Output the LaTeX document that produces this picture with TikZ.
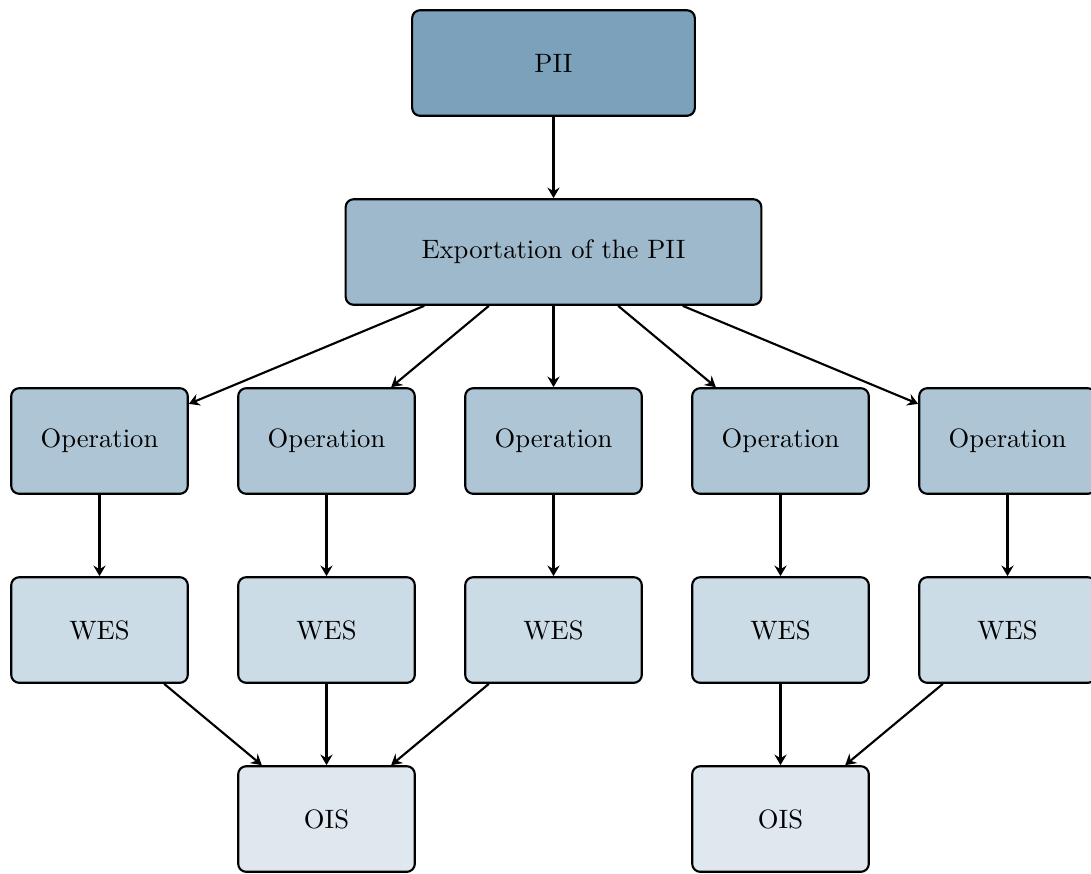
\documentclass[tikz,border=0pt]{standalone}
\usetikzlibrary{arrows.meta}
\definecolor{piiFill}{HTML}{7BA1BB}
\definecolor{expFill}{HTML}{9EB9CC}
\definecolor{opFill}{HTML}{ADC5D5}
\definecolor{wesFill}{HTML}{CCDCE6}
\definecolor{oisFill}{HTML}{DFE7EF}
\tikzset{
  box/.style={draw=black, thick, rounded corners=3pt, minimum height=39.7pt,
              inner sep=0pt, align=center},
  smallbox/.style={box, minimum width=66.4pt},
  link/.style={-{Stealth[length=4pt, width=4.6pt, inset=1.4pt]}, thick}
}
\begin{document}
\begin{tikzpicture}[x=0.376pt, y=-0.376pt]
\useasboundingbox (0,0) rectangle (1091,873);

% top levels
\node[box, fill=piiFill, minimum width=106.3pt] (pii) at (553.5,63) {PII};
\node[box, fill=expFill, minimum width=156.3pt] (exp) at (553.5,252) {Exportation of the PII};

% operations and their WES
\foreach \i/\x in {1/99.5, 2/326.5, 3/553.5, 4/780.5, 5/1007.5} {
  \node[smallbox, fill=opFill] (op\i) at (\x,441) {Operation};
  \node[smallbox, fill=wesFill] (wes\i) at (\x,630) {WES};
}

% collecting systems
\node[smallbox, fill=oisFill] (ois1) at (326.5,819) {OIS};
\node[smallbox, fill=oisFill] (ois2) at (780.5,819) {OIS};

% connectors
\draw[link] (pii) -- (exp);
\foreach \i in {1,...,5} {
  \draw[link] (exp) -- (op\i);
  \draw[link] (op\i) -- (wes\i);
}
\draw[link] (wes1) -- (ois1);
\draw[link] (wes2) -- (ois1);
\draw[link] (wes3) -- (ois1);
\draw[link] (wes4) -- (ois2);
\draw[link] (wes5) -- (ois2);
\end{tikzpicture}
\end{document}
